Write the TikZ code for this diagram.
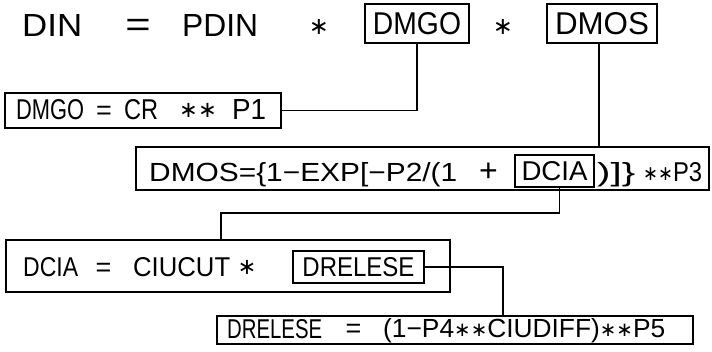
\documentclass[tikz,border=0pt]{standalone}
\usepackage{fontspec}
\setmainfont{Liberation Sans}
\newfontfamily\djv{DejaVu Sans}
\usepackage{graphicx}
\newcommand{\lowast}{\raisebox{0.07em}{\scalebox{0.75}{\djv ∗}}}
\newcommand{\seg}[3]{\resizebox{#1pt}{#2pt}{#3}}
\tikzset{
  box/.style={draw, line width=1.2pt, inner sep=0pt, rectangle},
  txt/.style={inner sep=0pt, anchor=base west, font=\fontsize{27}{30}\selectfont},
  op/.style={inner sep=0pt, anchor=base, font=\fontsize{#1}{#1}\selectfont},
  op/.default=27,
  wire/.style={line width=1.1pt}
}
\begin{document}
\begin{tikzpicture}[x=1pt,y=-1pt]
\useasboundingbox (0,0) rectangle (712,352);
% Row 1
\node[txt] (t1a) at (22,37) {\seg{60}{22}{DIN}};
\node[op=28] (t1b) at (138,37) {\scalebox{1.55}[1.25]{=}};
\node[txt] (t1c) at (182,37) {\seg{76}{22}{PDIN}};
\node[op=32] (t1d) at (319,37) {\lowast};
\node[box, minimum width=104pt, minimum height=39pt] (dmgo) at (417,23.5) {\seg{88}{22}{DMGO}};
\node[op=32] (t1e) at (503,37) {\lowast};
\node[box, minimum width=110pt, minimum height=39pt] (dmos) at (602,23.5) {\seg{94}{22}{DMOS}};
% Row 2
\node[box, minimum width=276pt, minimum height=35pt] (r2) at (143,110.5) {};
\node[txt] (t2a) at (16,120) {\seg{68}{20}{DMGO}};
\node[op=27] (t2b) at (104,120) {=};
\node[txt] (t2c) at (124,120) {\seg{34}{20}{CR}};
\node[op=30] (t2d) at (198,120) {\lowast\lowast};
\node[txt] (t2e) at (232,120) {\seg{34}{20}{P1}};
% Row 3
\node[box, minimum width=573pt, minimum height=43pt] (r3) at (422.5,168.5) {};
\node[txt] (t3a) at (149,182) {\seg{308}{19}{DMOS=\{1−EXP[−P2/(1}};
\node[op=32] (t3b) at (488.5,182) {+};
\node[box, minimum width=79pt, minimum height=32pt] (dcia) at (554.5,171) {\seg{66}{19}{DCIA}};
\node[txt] (t3c) at (597,182) {\seg{38}{19}{)]\}}};
\node[txt] (t3d) at (643,182) {\seg{59}{19}{\lowast\lowast P3}};
% Row 4
\node[box, minimum width=444pt, minimum height=52pt] (r4) at (228,266) {};
\node[txt] (t4a) at (23,277) {\seg{55}{19}{DCIA}};
\node[op=27] (t4b) at (103.5,277) {=};
\node[txt] (t4c) at (133,277) {\seg{97}{19}{CIUCUT}};
\node[op=30] (t4d) at (247,277) {\lowast};
\node[box, minimum width=131pt, minimum height=32pt] (drel) at (358.5,267) {\seg{112}{19}{DRELESE}};
% Row 5
\node[box, minimum width=476pt, minimum height=28pt] (r5) at (455,330) {};
\node[txt] (t5a) at (227,338) {\seg{95}{19}{DRELESE}};
\node[op=27] (t5b) at (353.5,338) {=};
\node[txt] (t5c) at (383,338) {\seg{282}{19}{(1−P4\lowast\lowast CIUDIFF)\lowast\lowast P5}};
% Connectors
\coordinate (k3) at (221,213);
\coordinate (k4) at (503,265);
\draw[wire] (dmgo.south) |- (r2.east);
\draw[wire] ([xshift=-3pt]dmos.south) -- ([xshift=-3pt]dmos.south |- r3.north);
\draw[wire] ([xshift=5pt]dcia.south) |- (k3) -- (k3 |- r4.north);
\draw[wire] (drel.east) -| (k4 |- r5.north);
\end{tikzpicture}
\end{document}
